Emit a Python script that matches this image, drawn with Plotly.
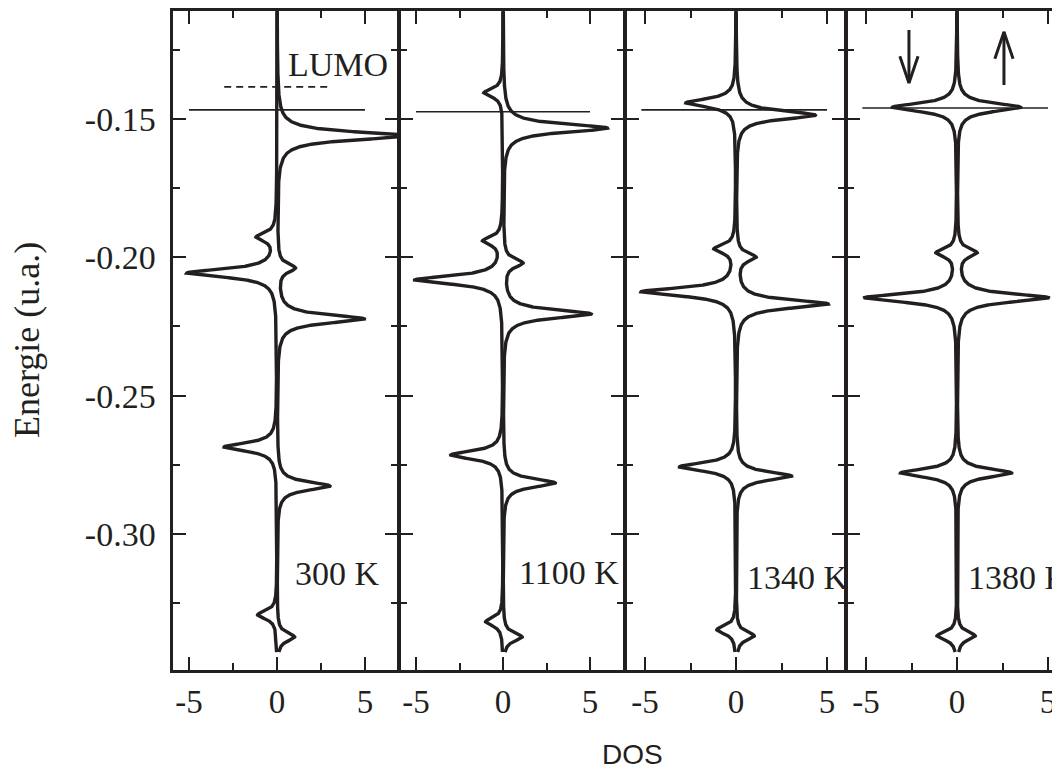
import numpy as np
import plotly.graph_objects as go

# ---------------- data ----------------
temps = ["300 K", "1100 K", "1340 K", "1380 K"]

# spin-up levels: energy (u.a.) and peak DOS height
up_E = [
    [-0.1561, -0.2039, -0.2223, -0.2827, -0.3373],
    [-0.1533, -0.2021, -0.2205, -0.2816, -0.3373],
    [-0.1486, -0.2000, -0.2169, -0.2791, -0.3369],
    [-0.1458, -0.1984, -0.2147, -0.2780, -0.3369],
]
up_A = [
    [7.4, 1.0, 4.95, 3.0, 1.0],
    [6.0, 1.1, 5.05, 3.0, 1.1],
    [4.35, 1.05, 5.05, 3.05, 1.0],
    [3.5, 1.05, 5.05, 3.0, 1.0],
]
# spin-down levels
dn_E = [
    [-0.1927, -0.2057, -0.2686, -0.3293],
    [-0.1406, -0.1941, -0.2082, -0.2715, -0.3318],
    [-0.1442, -0.1970, -0.2125, -0.2758, -0.3347],
    [-0.1458, -0.1984, -0.2147, -0.2780, -0.3369],
]
dn_A = [
    [-1.1, -5.1, -3.0, -1.1],
    [-1.1, -1.1, -5.06, -3.0, -1.0],
    [-2.75, -1.15, -5.2, -3.1, -1.05],
    [-3.55, -1.1, -5.1, -3.1, -1.1],
]
gamma = 0.0018          # level broadening (u.a.)
E_min, E_max = -0.3427, -0.105

fermi_E = [-0.1467, -0.1474, -0.1467, -0.1460]
fermi_x0 = [-5.0, -5.0, -5.2, -5.2]
fermi_x1 = [5.0, 5.0, 5.0, 5.0]
lumo_E = -0.1384
lumo_x = [-3.0, 3.0]

x_tickvals = [-5, 0, 5]
x_ticktext = ["-5", "0", "5"]
x_minor = [-2.5, 2.5]
y_tickvals = [-0.30, -0.25, -0.20, -0.15]
y_ticktext = ["-0.30", "-0.25", "-0.20", "-0.15"]
y_minor = [-0.325, -0.275, -0.225, -0.175, -0.125]

# ---------------- layout constants ----------------
OFF = 8                      # page body margin of the html
W, H = 1060 - OFF, 769 - OFF
INK = "#231f20"
SERIF = "Liberation Serif"
LW = 2.5                     # frame line width

# page-pixel geometry of the frames
bound_px = [172, 399, 625, 846]          # frame line centres (left side of each panel)
right_page = 1060                        # panel 4 runs off the page
top_px, bot_px = 10, 671
zero_px = [277, 503, 736, 957]           # x pixel of DOS = 0
unit_px = [17.6, 17.4, 18.2, 18.2]       # pixels per DOS unit
E_ref, E_ref_px, px_per_E = -0.15, 119, 2766.0


def fx(p):  # page px -> paper fraction
    return (p - OFF) / W


def fy(p):
    return 1 - (p - OFF) / H


# domains with lines drawn outside the plot area, so adjacent frames coincide
dom_l = [b + LW / 2 for b in bound_px]
dom_r = [b - LW / 2 for b in bound_px[1:]] + [right_page]
dom_t, dom_b = top_px + LW / 2, bot_px - LW / 2
y_range = [E_ref - (dom_b - E_ref_px) / px_per_E, E_ref + (E_ref_px - dom_t) / px_per_E]


def dos(E, levels, amps):
    out = np.zeros_like(E)
    for e0, a in zip(levels, amps):
        out += a / (1.0 + ((E - e0) / gamma) ** 2)
    return out


E = np.linspace(E_min, E_max, 6000)

fig = go.Figure()
for i in range(4):
    xa = "x" if i == 0 else f"x{i+1}"
    ya = "y" if i == 0 else f"y{i+1}"
    for lv, am in ((up_E[i], up_A[i]), (dn_E[i], dn_A[i])):
        fig.add_trace(go.Scatter(x=dos(E, lv, am), y=E, mode="lines",
                                 line=dict(color=INK, width=3.4),
                                 xaxis=xa, yaxis=ya, showlegend=False,
                                 hoverinfo="skip"))
    fig.add_trace(go.Scatter(x=[fermi_x0[i], fermi_x1[i]], y=[fermi_E[i]] * 2,
                             mode="lines", line=dict(color=INK, width=1.6),
                             xaxis=xa, yaxis=ya, showlegend=False,
                             hoverinfo="skip"))
    if i == 0:
        fig.add_trace(go.Scatter(x=lumo_x, y=[lumo_E] * 2, mode="lines",
                                 line=dict(color=INK, width=1.6, dash="7px,5px"),
                                 xaxis=xa, yaxis=ya, showlegend=False,
                                 hoverinfo="skip"))

# spin arrows in last panel (down at left, up at right)
arrow_specs = [(-2.64, -0.1178, -0.1370), (2.58, -0.1377, -0.1185)]  # x, tail, tip
hw, hl = 0.5, 0.0097
for ax_, tail, tip in arrow_specs:
    s = np.sign(tip - tail)
    fig.add_trace(go.Scatter(x=[ax_, ax_], y=[tail, tip], mode="lines",
                             line=dict(color=INK, width=3),
                             xaxis="x4", yaxis="y4", showlegend=False,
                             hoverinfo="skip"))
    fig.add_trace(go.Scatter(x=[ax_ - hw, ax_, ax_ + hw],
                             y=[tip - s * hl, tip, tip - s * hl], mode="lines",
                             line=dict(color=INK, width=3),
                             xaxis="x4", yaxis="y4", showlegend=False,
                             hoverinfo="skip"))

layout = dict(width=W, height=H, margin=dict(l=0, r=0, t=0, b=0),
              paper_bgcolor="white", plot_bgcolor="white", showlegend=False)

for i in range(4):
    sfx = "" if i == 0 else str(i + 1)
    xr = [(dom_l[i] - zero_px[i]) / unit_px[i], (dom_r[i] - zero_px[i]) / unit_px[i]]
    layout["xaxis" + sfx] = dict(
        domain=[fx(dom_l[i]), min(fx(dom_r[i]), 1.0)],
        range=xr, anchor="y" + sfx,
        showline=True, linecolor=INK, linewidth=LW, mirror="ticks",
        showgrid=False, zeroline=False,
        tickmode="array", tickvals=x_tickvals, ticktext=x_ticktext,
        ticks="inside", ticklen=13, tickwidth=2, tickcolor=INK,
        minor=dict(tickmode="array", tickvals=x_minor, ticks="inside",
                   ticklen=7, tickwidth=2, tickcolor=INK),
        tickfont=dict(family=SERIF, size=33, color=INK),
        ticklabelstandoff=1,
    )
    layout["yaxis" + sfx] = dict(
        domain=[fy(dom_b), fy(dom_t)], range=y_range, anchor="x" + sfx,
        showline=True, linecolor=INK, linewidth=LW,
        mirror="ticks" if i < 3 else False,
        showgrid=False, zeroline=False,
        tickmode="array", tickvals=y_tickvals, ticktext=y_ticktext,
        ticks="inside", ticklen=13, tickwidth=2, tickcolor=INK,
        minor=dict(tickmode="array", tickvals=y_minor,
                   ticks="inside", ticklen=7, tickwidth=2, tickcolor=INK),
        showticklabels=(i == 0),
        tickfont=dict(family=SERIF, size=34, color=INK),
        ticklabelstandoff=8,
    )

annotations = []
label_x = [0.9, 0.8, 0.5, 0.5]
label_E = [-0.3143, -0.3141, -0.3156, -0.3156]
for i in range(4):
    sfx = "" if i == 0 else str(i + 1)
    annotations.append(dict(text=temps[i], x=label_x[i], y=label_E[i],
                            xref="x" + sfx, yref="y" + sfx,
                            xanchor="left", yanchor="middle", showarrow=False,
                            font=dict(family=SERIF, size=34, color=INK)))
annotations.append(dict(text="LUMO", x=0.5, y=-0.1303, xref="x", yref="y",
                        xanchor="left", yanchor="middle", showarrow=False,
                        font=dict(family=SERIF, size=34, color=INK)))
annotations.append(dict(text="Energie (u.a.)", x=fx(27), y=fy(340),
                        xref="paper", yref="paper", textangle=-90,
                        xanchor="center", yanchor="middle", showarrow=False,
                        font=dict(family=SERIF, size=36, color=INK)))
annotations.append(dict(text="DOS", x=fx(632), y=fy(754),
                        xref="paper", yref="paper",
                        xanchor="center", yanchor="middle", showarrow=False,
                        font=dict(family="Liberation Sans", size=28, color=INK)))
layout["annotations"] = annotations

fig.update_layout(**layout)
fig.write_html("out.html")
